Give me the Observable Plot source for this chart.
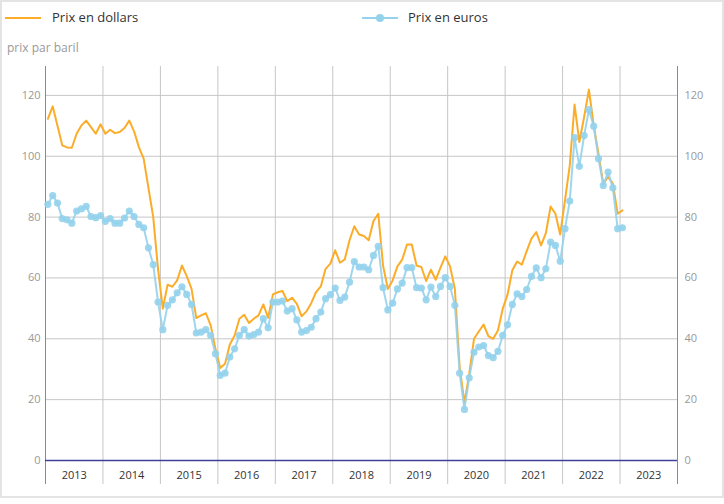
<!DOCTYPE html>
<html>
<head>
<meta charset="utf-8">
<script src="https://cdn.jsdelivr.net/npm/d3@7"></script>
<script src="https://cdn.jsdelivr.net/npm/@observablehq/plot@0.6"></script>
<style>
  body { margin: 0; background: #fff; font-family: "Open Sans", sans-serif; }
  #wrap { position: relative; width: 724px; height: 504px; overflow: hidden; background: #fff; }
  #frame { position: absolute; left: 0; top: 0; width: 720px; height: 494px; border: 2px solid #e4e4e4; }
  .lg-line { position: absolute; height: 2px; width: 36px; top: 17px; }
  .lg-text { position: absolute; top: 8px; font-size: 13px; color: #333; white-space: nowrap; }
  .lg-dot { position: absolute; width: 8px; height: 8px; border-radius: 50%; top: 14px; }
  #unit { position: absolute; left: 7px; top: 39px; font-size: 12px; color: #999; }
  #chart { position: absolute; left: 0; top: 58px; }
</style>
</head>
<body>
<div id="wrap">
  <div id="frame"></div>
  <div class="lg-line" style="left:5px;background:#fbad2a"></div>
  <div class="lg-text" style="left:52px">Prix en dollars</div>
  <div class="lg-line" style="left:362px;background:#94d2ec"></div>
  <div class="lg-dot" style="left:376px;background:#94d2ec"></div>
  <div class="lg-text" style="left:408px">Prix en euros</div>
  <div id="unit">prix par baril</div>
  <div id="chart"></div>
</div>
<script>
const startYear = 2013;
const years = [2013, 2014, 2015, 2016, 2017, 2018, 2019, 2020, 2021, 2022, 2023];
const yTicks = [0, 20, 40, 60, 80, 100, 120];

// Monthly prices, January 2013 to January 2023
const dollars = [
  112.3, 116.4, 110.0, 103.6, 102.9, 102.8, 107.4, 110.1, 111.7, 109.6, 107.4, 110.5,
  107.4, 108.7, 107.6, 108.0, 109.3, 111.7, 108.2, 103.0, 99.2, 89.6, 80.0, 63.0,
  49.9, 57.8, 57.1, 59.2, 64.1, 60.6, 56.4, 46.8, 47.7, 48.4, 44.4, 36.7,
  30.4, 31.8, 38.1, 41.1, 46.6, 47.9, 45.2, 46.6, 47.7, 51.3, 46.9, 54.6,
  55.3, 55.7, 52.4, 53.5, 51.5, 47.4, 49.0, 51.7, 55.3, 57.2, 63.0, 64.7,
  69.1, 65.0, 66.1, 72.4, 77.0, 74.3, 73.8, 72.4, 78.7, 81.1, 64.1, 56.4,
  59.2, 63.8, 66.0, 71.0, 71.0, 64.1, 63.6, 59.0, 62.7, 59.4, 63.4, 67.1,
  63.8, 56.4, 30.7, 19.0, 28.5, 40.0, 42.4, 44.7, 40.9, 40.0, 42.7, 49.9,
  54.5, 62.5, 65.4, 64.4, 68.8, 72.9, 75.1, 70.7, 74.7, 83.5, 81.1, 74.3,
  85.5, 97.0, 117.0, 104.7, 112.9, 121.9, 110.1, 100.8, 91.0, 93.2, 91.0, 81.1,
  82.2
];
const euros = [
  84.2, 87.1, 84.6, 79.5, 79.1, 78.0, 82.0, 82.7, 83.5, 80.2, 79.8, 80.5,
  78.6, 79.5, 78.0, 78.0, 79.7, 82.0, 80.2, 77.6, 76.5, 69.9, 64.4, 52.1,
  43.0, 51.0, 52.8, 55.1, 57.1, 54.6, 51.3, 41.9, 42.2, 43.0, 41.1, 35.1,
  28.0, 28.7, 34.0, 36.7, 41.1, 43.0, 40.9, 41.4, 42.2, 46.6, 43.6, 52.1,
  52.1, 52.4, 49.1, 49.9, 46.2, 42.2, 42.7, 43.8, 46.6, 48.8, 53.2, 54.5,
  56.7, 52.6, 53.7, 58.6, 65.4, 63.6, 63.6, 62.7, 67.4, 70.4, 56.8, 49.5,
  51.7, 56.4, 58.3, 63.4, 63.4, 56.8, 56.7, 52.8, 57.0, 53.9, 57.2, 60.1,
  57.2, 51.0, 28.7, 16.8, 27.2, 35.6, 37.3, 37.8, 34.5, 33.8, 35.9, 41.1,
  44.6, 51.3, 54.8, 53.9, 56.2, 60.5, 63.3, 60.1, 63.0, 71.8, 70.7, 65.5,
  76.2, 85.3, 106.1, 96.7, 106.8, 115.3, 109.9, 99.2, 90.4, 94.8, 89.6, 76.2,
  76.5
];

// month position (centre of each month) on a continuous year scale
const monthPos = i => startYear + (i + 0.5) / 12;
const dData = dollars.map((v, i) => ({x: monthPos(i), v}));
const eData = euros.map((v, i) => ({x: monthPos(i), v}));

const xMin = years[0], xMax = years[years.length - 1] + 1;
const yTop = 129.5;
const bounds = d3.range(xMin, xMax + 1);
const inner = bounds.slice(1, -1);
const mids = years.map(y => y + 0.5);

const orange = "#fbad2a";
const blue = "#94d2ec";
const grid = "#c6c6c6";

const chart = Plot.plot({
  width: 724,
  height: 446,
  marginLeft: 45,
  marginRight: 47,
  marginTop: 8,
  marginBottom: 44,
  x: {domain: [xMin, xMax], axis: null, label: null},
  y: {domain: [0, yTop], axis: null, label: null},
  style: {fontFamily: "Open Sans, sans-serif", fontSize: "11px", background: "transparent", overflow: "visible"},
  marks: [
    Plot.ruleY(yTicks.filter(d => d > 0), {stroke: grid}),
    Plot.ruleX(inner, {stroke: grid, y1: 0, y2: yTop}),
    Plot.axisX(inner, {tickSize: 24, tickFormat: () => "", stroke: grid, label: null}),
    Plot.axisX([xMin, xMax], {tickSize: 24, tickFormat: () => "", stroke: "#8a8a8a", label: null}),
    Plot.ruleX([xMin, xMax], {stroke: "#8a8a8a", y1: 0, y2: yTop}),
    Plot.axisX(mids, {tickSize: 0, tickPadding: 11, tickFormat: d => String(Math.floor(d)), fill: "#333", fontSize: 11, label: null}),
    Plot.axisY(yTicks, {anchor: "left", tickSize: 0, tickPadding: 5, fill: "#999", fontSize: 11, label: null}),
    Plot.axisY(yTicks, {anchor: "right", tickSize: 0, tickPadding: 7, fill: "#999", fontSize: 11, label: null}),
    Plot.ruleY([0], {stroke: "#40409c", strokeWidth: 1.6}),
    Plot.line(dData, {x: "x", y: "v", stroke: orange, strokeWidth: 2}),
    Plot.line(eData, {x: "x", y: "v", stroke: blue, strokeWidth: 2, strokeOpacity: 0.9}),
    Plot.dot(eData, {x: "x", y: "v", r: 3.6, fill: blue, fillOpacity: 0.9, stroke: "none"})
  ]
});
document.getElementById("chart").appendChild(chart);
</script>
</body>
</html>
